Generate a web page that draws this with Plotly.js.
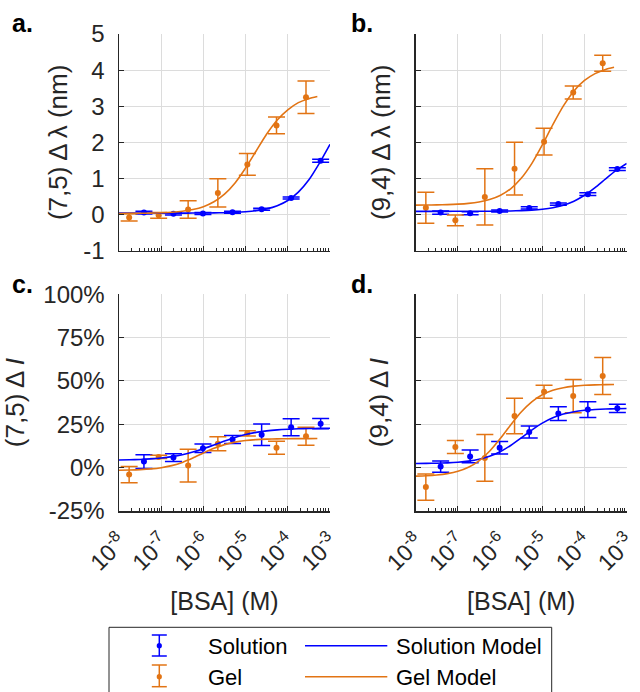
<!DOCTYPE html>
<html><head><meta charset="utf-8">
<script src="https://cdn.plot.ly/plotly-3.0.1.min.js"></script>
<style>html,body{margin:0;padding:0;background:#fff}#chart{width:640px;height:692px}</style>
</head><body><div id="chart"></div>
<script>
// ---------------- data ----------------
const solConc = [3.9e-8, 1.95e-7, 9.75e-7, 4.9e-6, 2.4e-5, 1.2e-4, 6.0e-4];
const gelConc = [1.74e-8, 8.7e-8, 4.35e-7, 2.2e-6, 1.1e-5, 5.4e-5, 2.7e-4];

// (a) (7,5) shift, nm
const solShift75 = [0.055, 0.02, 0.03, 0.065, 0.147, 0.46, 1.49];
const solShift75Err = [0.04, 0.03, 0.03, 0.03, 0.03, 0.03, 0.04];
const gelShift75 = [-0.08, -0.02, 0.14, 0.60, 1.39, 2.47, 3.25];
const gelShift75Err = [0.10, 0.08, 0.24, 0.39, 0.30, 0.23, 0.45];
// (b) (9,4) shift, nm
const solShift94 = [0.056, 0.037, 0.10, 0.185, 0.29, 0.565, 1.26];
const solShift94Err = [0.045, 0.04, 0.03, 0.03, 0.03, 0.04, 0.04];
const gelShift94 = [0.19, -0.16, 0.49, 1.27, 2.02, 3.38, 4.19];
const gelShift94Err = [0.43, 0.15, 0.78, 0.73, 0.37, 0.18, 0.22];
// (c) (7,5) intensity change, %
const solInt75 = [3.5, 5.8, 11.2, 16.3, 19.0, 23.3, 25.4];
const solInt75Err = [4.0, 2.2, 2.4, 2.3, 6.2, 4.9, 3.0];
const gelInt75 = [-4.0, 6.2, 1.2, 13.8, 19.8, 11.5, 18.1];
const gelInt75Err = [4.7, 0.9, 9.4, 4.0, 1.5, 3.8, 5.2];
// (d) (9,4) intensity change, %
const solInt94 = [0.6, 6.5, 11.5, 20.6, 31.2, 33.5, 34.2];
const solInt94Err = [3.2, 3.65, 3.6, 3.5, 4.0, 4.5, 2.4];
const gelInt94 = [-11.2, 11.9, 5.6, 29.8, 43.8, 41.3, 52.9];
const gelInt94Err = [7.6, 3.7, 13.5, 10.2, 3.7, 9.6, 10.7];

// model curves (log10 of concentration)
const solModelExp = [-8,-7.75,-7.5,-7.25,-7,-6.75,-6.5,-6.25,-6,-5.75,-5.5,-5.25,-5,-4.75,-4.5,-4.25,-4,-3.75,-3.5,-3.25,-3];
const gelModelExp = [-8,-7.75,-7.5,-7.25,-7,-6.75,-6.5,-6.25,-6,-5.75,-5.5,-5.25,-5,-4.75,-4.5,-4.25,-4,-3.75,-3.5,-3.3];
const solModelA = [0.040,0.040,0.040,0.040,0.040,0.041,0.041,0.042,0.044,0.047,0.052,0.062,0.078,0.107,0.158,0.245,0.390,0.621,0.964,1.426,1.945];
const gelModelA = [0.032,0.034,0.036,0.041,0.050,0.066,0.093,0.140,0.220,0.355,0.566,0.877,1.29,1.76,2.23,2.62,2.90,3.10,3.21,3.27];
const solModelB = [0.090,0.090,0.090,0.090,0.091,0.091,0.092,0.094,0.096,0.101,0.109,0.123,0.148,0.191,0.262,0.372,0.535,0.748,0.989,1.222,1.416];
const gelModelB = [0.263,0.265,0.269,0.276,0.289,0.311,0.350,0.417,0.530,0.715,1.005,1.412,1.930,2.490,3.008,3.424,3.714,3.902,4.019,4.078];
const solModelC = [4.41,4.54,4.74,5.07,5.58,6.35,7.46,9.00,10.93,13.14,15.39,17.43,19.09,20.34,21.21,21.79,22.17,22.41,22.56,22.65,22.71];
const gelModelC = [-1.46,-1.34,-1.12,-0.72,-0.01,1.19,3.03,5.54,8.41,11.14,13.29,14.75,15.65,16.17,16.46,16.62,16.70,16.75,16.77,16.78];
const solModelD = [2.39,2.46,2.57,2.78,3.15,3.79,4.86,6.57,9.19,12.80,17.15,21.69,25.70,28.79,30.91,32.26,33.08,33.56,33.84,33.99,34.09];
const gelModelD = [-4.91,-4.67,-4.23,-3.45,-2.09,0.23,3.97,9.48,16.66,24.66,32.11,37.97,42.05,44.61,46.14,47.01,47.50,47.77,47.92,47.99];

// axis ticks
const xTickVals = [1e-8, 1e-7, 1e-6, 1e-5, 1e-4, 1e-3];
const xTickText = ['10<sup>-8</sup>','10<sup>-7</sup>','10<sup>-6</sup>','10<sup>-5</sup>','10<sup>-4</sup>','10<sup>-3</sup>'];
const yShiftTicks = [-1, 0, 1, 2, 3, 4, 5];
const yShiftText = ['-1','0','1','2','3','4','5'];
const yIntTicks = [-25, 0, 25, 50, 75, 100];
const yIntText = ['-25%','0%','25%','50%','75%','100%'];

const panelLabels = ['a.', 'b.', 'c.', 'd.'];
const yTitles = ['(7,5) Δ\u2009λ (nm)', '(9,4) Δ\u2009λ (nm)', '(7,5) Δ\u2009<i>I</i>', '(9,4) Δ\u2009<i>I</i>'];
const xTitle = '[BSA] (M)';
const legendNames = ['Solution', 'Gel', 'Solution Model', 'Gel Model'];

// ---------------- styling ----------------
const BLUE = '#0000FF';
const ORANGE = '#E27414';
const INK = '#262626';
const GRID = '#DCDCDC';
const FONT = 'Liberation Sans, Arial, Helvetica, sans-serif';
const W = 640, H = 692;
const px = v => v / W;
const py = v => 1 - v / H;

const solX = solConc, gelX = gelConc;
const solMX = solModelExp.map(e => Math.pow(10, e));
const gelMX = gelModelExp.map(e => Math.pow(10, e));

function pts(x, y, err, color, xa, ya) {
  return {type:'scatter', mode:'markers', x, y, xaxis:xa, yaxis:ya, hoverinfo:'skip',
    marker:{color, size:6, symbol:'circle'},
    error_y:{type:'data', array:err, visible:true, color, thickness:1.5, width:8.5}};
}
function line(x, y, color, xa, ya) {
  return {type:'scatter', mode:'lines', x, y, xaxis:xa, yaxis:ya, hoverinfo:'skip',
    line:{color, width:1.6, shape:'spline', smoothing:0.6}};
}
const panels = [
  {xa:'x',  ya:'y',  s:solShift75, se:solShift75Err, g:gelShift75, ge:gelShift75Err, sm:solModelA, gm:gelModelA},
  {xa:'x2', ya:'y2', s:solShift94, se:solShift94Err, g:gelShift94, ge:gelShift94Err, sm:solModelB, gm:gelModelB},
  {xa:'x3', ya:'y3', s:solInt75, se:solInt75Err, g:gelInt75, ge:gelInt75Err, sm:solModelC, gm:gelModelC},
  {xa:'x4', ya:'y4', s:solInt94, se:solInt94Err, g:gelInt94, ge:gelInt94Err, sm:solModelD, gm:gelModelD}
];
const data = [];
panels.forEach(p => {
  data.push(pts(solX, p.s, p.se, BLUE, p.xa, p.ya));
  data.push(pts(gelX, p.g, p.ge, ORANGE, p.xa, p.ya));
  data.push(line(solMX, p.sm, BLUE, p.xa, p.ya));
  data.push(line(gelMX, p.gm, ORANGE, p.xa, p.ya));
});

// minor tick positions (2..9 within each decade)
const minorVals = [];
for (let e = -8; e < -3; e++) for (let k = 2; k <= 9; k++) minorVals.push(k * Math.pow(10, e));

const leftDom = [px(119), px(330)], rightDom = [px(415.7), px(626.7)];
const topDom = [py(250.7), py(34)], botDom = [py(511), py(294.3)];

function xAxis(domain, anchor, labels) {
  const a = {type:'log', domain, anchor, range:[-8, -3], tickmode:'array', tickvals:xTickVals,
    ticktext:xTickText, showticklabels:labels, ticks:'inside', ticklen:5, tickwidth:1, tickcolor:INK,
    showline:true, linecolor:INK, linewidth:1.5, mirror:false, showgrid:true, gridcolor:GRID, gridwidth:1,
    zeroline:false, tickangle:-45, ticklabelstandoff:7, ticklabelshift:1, ticklabeloverflow:'allow',
    tickfont:{family:FONT, size:23, color:INK},
    minor:{tickmode:'array', tickvals:minorVals, ticks:'inside', ticklen:3, tickwidth:1, tickcolor:INK, showgrid:false}};
  if (labels) a.title = {text:xTitle, font:{family:FONT, size:25, color:INK}, standoff:18};
  return a;
}
function yAxis(domain, anchor, range, tv, tt, labels, title, standoff) {
  return {domain, anchor, range, tickmode:'array', tickvals:tv, ticktext:tt, showticklabels:labels,
    ticks:'inside', ticklen:5, tickwidth:1, tickcolor:INK, showline:true, linecolor:INK, linewidth:1.5,
    mirror:false, showgrid:true, gridcolor:GRID, gridwidth:1, zeroline:false, ticklabelstandoff:8,
    tickfont:{family:FONT, size:24, color:INK},
    title:{text:title, font:{family:FONT, size:26, color:INK}, standoff}};
}

// legend drawn as layout shapes/annotations
const shapes = [
  {type:'rect', xref:'paper', yref:'paper', x0:px(109), x1:px(551.7), y0:py(700), y1:py(627.3),
   line:{color:INK, width:1}, fillcolor:'rgba(0,0,0,0)'}
];
function errGlyph(cx, top, bot, mid, color) {
  shapes.push({type:'line', xref:'paper', yref:'paper', x0:px(cx), x1:px(cx), y0:py(top), y1:py(bot), line:{color, width:1.5}});
  shapes.push({type:'line', xref:'paper', yref:'paper', x0:px(cx-7.5), x1:px(cx+7.5), y0:py(top), y1:py(top), line:{color, width:1.5}});
  shapes.push({type:'line', xref:'paper', yref:'paper', x0:px(cx-7.5), x1:px(cx+7.5), y0:py(bot), y1:py(bot), line:{color, width:1.5}});
  shapes.push({type:'circle', xref:'paper', yref:'paper', x0:px(cx-2.6), x1:px(cx+2.6), y0:py(mid+2.6), y1:py(mid-2.6), line:{color, width:0}, fillcolor:color});
}
errGlyph(159.3, 635, 656, 645.7, BLUE);
errGlyph(159.3, 665, 686.7, 676.7, ORANGE);
shapes.push({type:'line', xref:'paper', yref:'paper', x0:px(305), x1:px(387.3), y0:py(645.7), y1:py(645.7), line:{color:BLUE, width:1.6}});
shapes.push({type:'line', xref:'paper', yref:'paper', x0:px(305), x1:px(387.3), y0:py(676.7), y1:py(676.7), line:{color:ORANGE, width:1.6}});

const legFont = {family:FONT, size:22, color:'#000'};
const annotations = [
  {text:legendNames[0], x:px(206), y:py(646.5), xanchor:'left', yanchor:'middle'},
  {text:legendNames[1], x:px(206), y:py(677.5), xanchor:'left', yanchor:'middle'},
  {text:legendNames[2], x:px(394), y:py(646.5), xanchor:'left', yanchor:'middle'},
  {text:legendNames[3], x:px(394), y:py(677.5), xanchor:'left', yanchor:'middle'}
].map(a => Object.assign(a, {xref:'paper', yref:'paper', showarrow:false, font:legFont}));
const labelPos = [[10, 23], [349, 23], [10, 284], [349, 284]];
panelLabels.forEach((t, i) => annotations.push({text:'<b>'+t+'</b>', xref:'paper', yref:'paper',
  x:px(labelPos[i][0]), y:py(labelPos[i][1]), xanchor:'left', yanchor:'middle', showarrow:false,
  font:{family:FONT, size:25, color:'#000'}}));

const layout = {
  width:W, height:H, margin:{l:0, r:0, t:0, b:0}, paper_bgcolor:'#fff', plot_bgcolor:'#fff',
  showlegend:false, font:{family:FONT, color:INK},
  xaxis: xAxis(leftDom, 'y', false),
  xaxis2: xAxis(rightDom, 'y2', false),
  xaxis3: xAxis(leftDom, 'y3', true),
  xaxis4: xAxis(rightDom, 'y4', true),
  yaxis: yAxis(topDom, 'x', [-1, 5], yShiftTicks, yShiftText, true, yTitles[0], 8),
  yaxis2: yAxis(topDom, 'x2', [-1, 5], yShiftTicks, yShiftText, false, yTitles[1], 16),
  yaxis3: yAxis(botDom, 'x3', [-25, 100], yIntTicks, yIntText, true, yTitles[2], 12),
  yaxis4: yAxis(botDom, 'x4', [-25, 100], yIntTicks, yIntText, false, yTitles[3], 18),
  shapes, annotations
};
Plotly.newPlot('chart', data, layout, {staticPlot:true, displayModeBar:false});
</script></body></html>
